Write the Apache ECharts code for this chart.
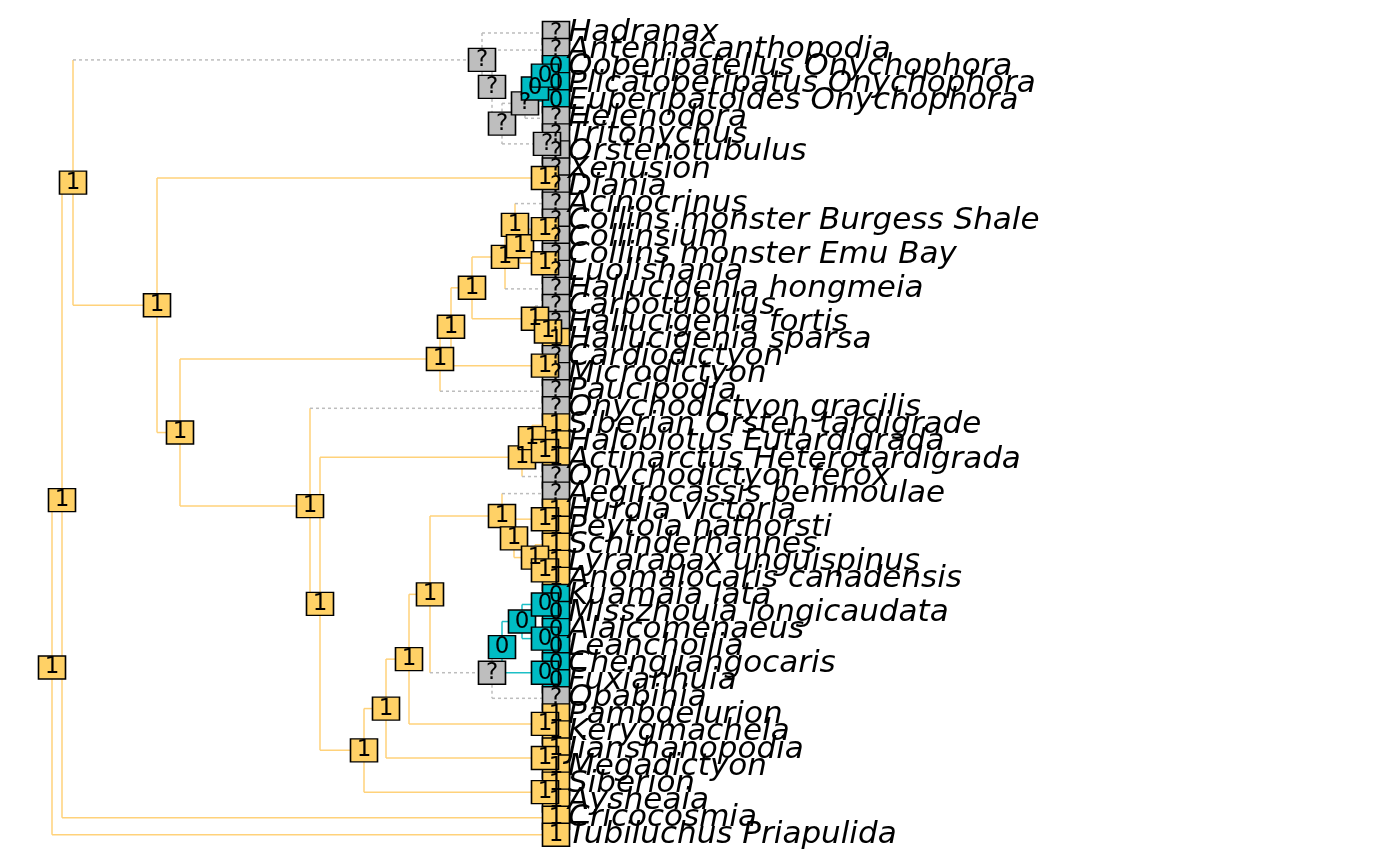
<!DOCTYPE html>
<html>
<head>
<meta charset="utf-8">
<script src="https://cdn.jsdelivr.net/npm/echarts@6/dist/echarts.min.js"></script>
<style>html,body{margin:0;padding:0;background:#fff}#container{width:1400px;height:866px}</style>
</head>
<body>
<div id="container"></div>
<script>
var tipNames = ['Hadranax', 'Antennacanthopodia', 'Ooperipatellus Onychophora', 'Plicatoperipatus Onychophora',
    'Euperipatoides Onychophora', 'Helenodora', 'Tritonychus', 'Orstenotubulus', 'Xenusion', 'Diania',
    'Acinocrinus', 'Collins monster Burgess Shale', 'Collinsium', 'Collins monster Emu Bay', 'Luolishania',
    'Hallucigenia hongmeia', 'Carbotubulus', 'Hallucigenia fortis', 'Hallucigenia sparsa', 'Cardiodictyon',
    'Microdictyon', 'Paucipodia', 'Onychodictyon gracilis', 'Siberian Orsten tardigrade', 'Halobiotus Eutardigrada',
    'Actinarctus Heterotardigrada', 'Onychodictyon ferox', 'Aegirocassis benmoulae', 'Hurdia victoria',
    'Peytoia nathorsti', 'Schinderhannes', 'Lyrarapax unguispinus', 'Anomalocaris canadensis', 'Kuamaia lata',
    'Misszhouia longicaudata', 'Alalcomenaeus', 'Leanchoilia', 'Chengjiangocaris', 'Fuxianhuia', 'Opabinia',
    'Pambdelurion', 'Kerygmachela', 'Jianshanopodia', 'Megadictyon', 'Siberion', 'Aysheaia', 'Cricocosmia',
    'Tubiluchus Priapulida'];
var tipStates = ['?', '?', '0', '0', '0', '?', '?', '?', '?', '?',
    '?', '?', '?', '?', '?', '?', '?', '?', '1', '?',
    '?', '?', '?', '1', '1', '1', '?', '?', '1', '1',
    '1', '1', '1', '0', '0', '0', '0', '0', '0', '?',
    '1', '1', '1', '1', '1', '1', '1', '1'];
var tipDepth = 556;

// internal nodes: id, depth, state, children (numbers = tip index)
var nodeIds = ['root', 'N1', 'N2', 'Ntop', 'A', 'B', 'C', 'O2', 'O1', 'D', 'N3', 'XD', 'N4', 'N5', 'N8', 'CM',
    'N9', 'Nc', 'Nf', 'N10', 'N11', 'N12', 'N13', 'N14', 'N6', 'N15', 'Tn0', 'Tn1', 'Tn2', 'L1', 'SA', 'L2',
    'JM', 'L3', 'PK', 'L4', 'R0', 'R1', 'R2', 'R3', 'R4', 'Q', 'E', 'E1', 'E2', 'E3', 'CF'];
var nodeDepth = [52, 62, 73, 482, 492, 502, 525, 535, 545, 547, 157, 545, 180, 440, 451, 545,
    472, 535, 548, 505, 515, 520, 545, 545, 310, 320, 522, 532, 545, 364, 545, 386,
    545, 409, 545, 430, 502, 514, 545, 535, 545, 492, 502, 522, 545, 545, 545];
var nodeStates = ['1', '1', '1', '?', '?', '?', '?', '0', '0', '?', '1', '1', '1', '1', '1', '1',
    '1', '1', '1', '1', '1', '1', '1', '1', '1', '1', '1', '1', '1', '1', '1', '1',
    '1', '1', '1', '1', '1', '1', '1', '1', '1', '?', '0', '0', '0', '0', '0'];
var nodeKids = [['N1', 47], ['N2', 46], ['Ntop', 'N3'], [0, 'A'], [1, 'B'], ['C', 'D'], ['O2', 5], ['O1', 4], [2, 3], [6, 7],
    ['XD', 'N4'], [8, 9], ['N5', 'N6'], ['N8', 21], ['N9', 'CM'], [19, 20],
    ['N10', 'Nc'], [16, 'Nf'], [17, 18], ['N11', 15], [10, 'N12'], ['N13', 'N14'], [11, 12], [13, 14],
    [22, 'N15'], ['Tn0', 'L1'], ['Tn1', 26], [23, 'Tn2'], [24, 25], ['L2', 'SA'], [44, 45], ['L3', 'JM'],
    [42, 43], ['L4', 'PK'], [40, 41], ['R0', 'Q'], [27, 'R1'], ['R2', 'R3'], [28, 29], [30, 'R4'], [31, 32],
    ['E', 39], ['E1', 'CF'], ['E2', 'E3'], [33, 34], [35, 36], [37, 38]];

var fill = { '1': '#FFD166', '0': '#00BCC4', '?': '#BEBEBE' };
var edgeCol = { '1': '#FFD27A', '0': '#1CBFC6', '?': '#BDBDBD' };

function pos(k) {
    if (typeof k === 'number') return { x: tipDepth, y: k, s: tipStates[k] };
    var i = nodeIds.indexOf(k);
    var ys = nodeKids[i].map(function (c) { return pos(c).y; });
    return { x: nodeDepth[i], y: (Math.min.apply(null, ys) + Math.max.apply(null, ys)) / 2, s: nodeStates[i] };
}

var edges = [];
var nodeBoxes = [];
nodeIds.forEach(function (id, i) {
    var p = pos(id);
    nodeBoxes.push([p.x, p.y, p.s]);
    nodeKids[i].forEach(function (c) {
        var q = pos(c);
        edges.push([p.x, p.y, q.x, q.y, q.s, p.s]);
    });
});
var tipBoxes = tipNames.map(function (n, i) { return [tipDepth, i, tipStates[i], n]; });

var boxLabel = {
    show: true, position: 'inside', fontSize: 23, color: '#000',
    fontFamily: 'DejaVu Sans', formatter: function (p) { return p.value[2]; }
};
function boxStyle(p) { return fill[p.value[2]]; }

function seg(a, b, s) {
    return {
        type: 'line',
        shape: { x1: a[0], y1: a[1], x2: b[0], y2: b[1] },
        style: { stroke: edgeCol[s], lineWidth: 1.5, lineDash: s === '?' ? [3, 3] : null }
    };
}

var chart = echarts.init(document.getElementById('container'));
chart.setOption({
    animation: false,
    grid: { left: 0, right: 0, top: 0, bottom: 0 },
    xAxis: { type: 'value', min: 0, max: 1400, show: false },
    yAxis: { type: 'value', min: -1.934, max: 48.83, inverse: true, show: false },
    series: [
        {
            type: 'custom',
            data: edges,
            renderItem: function (params, api) {
                var e = edges[params.dataIndex];
                var a = api.coord([e[0], e[1]]);
                var b = api.coord([e[0], e[3]]);
                var c = api.coord([e[2], e[3]]);
                return { type: 'group', children: [seg(a, b, e[5]), seg(b, c, e[4])] };
            }
        },
        {
            type: 'scatter',
            data: tipBoxes,
            symbol: 'rect',
            symbolSize: [27, 23],
            itemStyle: { color: boxStyle, borderColor: '#000', borderWidth: 1.5, opacity: 1 },
            label: boxLabel
        },
        {
            type: 'scatter',
            data: nodeBoxes,
            symbol: 'rect',
            symbolSize: [27, 23],
            itemStyle: { color: boxStyle, borderColor: '#000', borderWidth: 1.5, opacity: 1 },
            label: boxLabel
        },
        {
            type: 'scatter',
            data: tipBoxes,
            symbolSize: 0,
            itemStyle: { opacity: 1 },
            label: {
                show: true, position: 'right', distance: 12, fontSize: 31, fontStyle: 'italic',
                fontFamily: 'DejaVu Sans', color: '#000',
                formatter: function (p) { return p.value[3]; }
            }
        }
    ]
});
</script>
</body>
</html>
